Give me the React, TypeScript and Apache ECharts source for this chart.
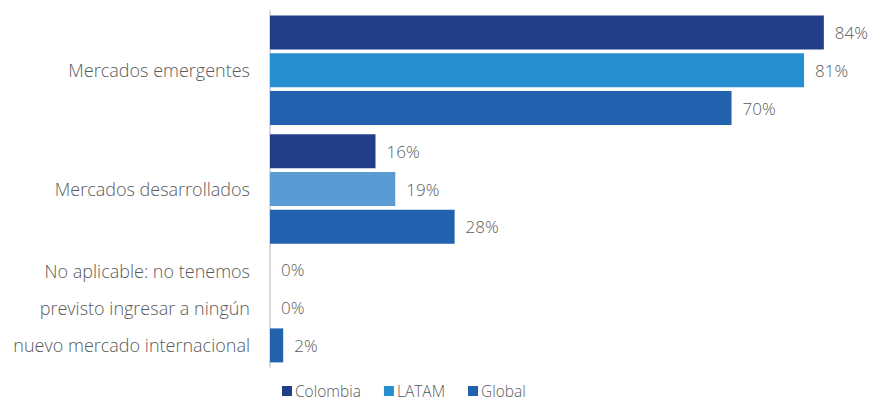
import React, { useEffect, useRef } from "react";
import * as echarts from "echarts";

const categories = [
  "Mercados emergentes",
  "Mercados desarrollados",
  "No aplicable: no tenemos\nprevisto ingresar a ningún\nnuevo mercado internacional",
];
const seriesNames = ["Colombia", "LATAM", "Global"];
const colombia = [84, 16, 0];
const latam = [81, 19, 0];
const global = [70, 28, 2];
const seriesColors = ["#233e88", "#268fd0", "#2161ad"];
const latamDevelopedColor = "#5b9bd4";

const FONT = "Open Sans";
const TEXT = "#5a5a5a";

export default function App() {
  const ref = useRef<HTMLDivElement>(null);
  useEffect(() => {
    document.body.style.margin = "0";
    const chart = echarts.init(ref.current!, null, { renderer: "svg" });
    const values = [colombia, latam, global];
    const series = values.map((arr, si) => ({
      name: seriesNames[si],
      type: "bar",
      barWidth: 34,
      barGap: "11%",
      itemStyle: { color: seriesColors[si] },
      data: arr.map((v, ci) =>
        si === 1 && ci === 1 ? { value: v, itemStyle: { color: latamDevelopedColor } } : v
      ),
      label: {
        show: true,
        position: "right",
        distance: 11,
        formatter: "{c}%",
        fontFamily: FONT,
        fontWeight: 300,
        fontSize: 17,
        color: TEXT,
      },
    }));
    chart.setOption({
      animation: false,
      textStyle: { fontFamily: FONT },
      grid: { left: 270, right: 10, top: 11, bottom: 36, containLabel: false },
      legend: {
        data: seriesNames,
        left: 280,
        top: 381,
        padding: 2,
        icon: "rect",
        itemWidth: 10,
        itemHeight: 10,
        itemGap: 23,
        textStyle: {
          fontFamily: FONT,
          fontWeight: 300,
          fontSize: 15.5,
          lineHeight: 16,
          color: TEXT,
          padding: [0, 0, 0, -2],
        },
      },
      xAxis: {
        type: "value",
        min: 0,
        max: 91,
        show: false,
      },
      yAxis: {
        type: "category",
        inverse: true,
        data: categories,
        axisLine: { show: true, lineStyle: { color: "#d9d9d9", width: 2 } },
        axisTick: { show: false },
        axisLabel: {
          margin: 20,
          fontFamily: FONT,
          fontWeight: 300,
          fontSize: 18,
          lineHeight: 37,
          color: TEXT,
          align: "right",
        },
      },
      series,
    });
    return () => chart.dispose();
  }, []);
  return <div ref={ref} style={{ width: 880, height: 403 }} />;
}
